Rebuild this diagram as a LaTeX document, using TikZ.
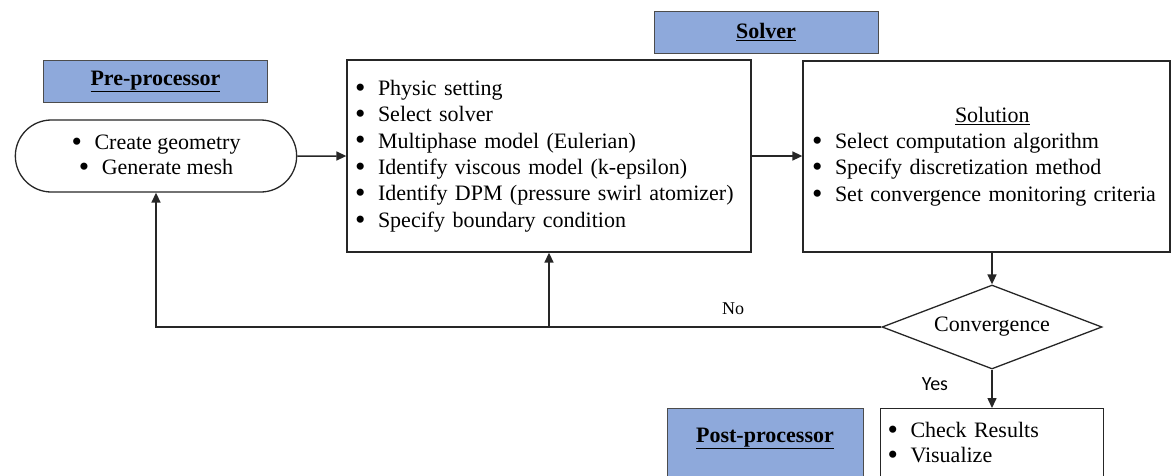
\documentclass[tikz,border=0pt]{standalone}
\usepackage{fontspec}
\setmainfont{Liberation Serif}
\newfontfamily\yesfont{Carlito}
\usetikzlibrary{shapes.geometric,shapes.misc,arrows.meta}
\definecolor{lblblue}{HTML}{8EA9DB}
\newcommand{\bul}{\makebox[23pt][l]{\raisebox{-0.08em}{\scalebox{1.35}{\textbullet}}}}
\tikzset{
  lbl/.style={draw=black!70, fill=lblblue, line width=1pt, minimum width=224pt, minimum height=42pt, font=\fontsize{22}{26}\selectfont\bfseries},
  box/.style={draw=black!85, line width=1.3pt, font=\fontsize{22}{26.4}\selectfont},
  arr/.style={draw=black!85, line width=1.5pt, -{Triangle[length=10pt,width=9pt]}}
}
\begin{document}
\begin{tikzpicture}[x=1pt,y=-1pt]
  \clip (0,0) rectangle (1171,475);
  % stage labels
  \node[lbl] (preLabel) at (155.5,81.5) {\underline{Pre-processor}};
  \node[lbl] (solverLabel) at (766,32) {\underline{Solver}};
  \node[lbl, anchor=north, minimum width=196pt, inner ysep=19.4pt] (postLabel) at (765,408) {\underline{Post-processor}\rule[-30pt]{0pt}{1pt}};
  % process boxes
  \node[box, rounded rectangle, minimum width=288pt, minimum height=72pt, align=center, font=\fontsize{22}{25}\selectfont] (preBox) at (156,156) {\bul Create geometry\\ \bul Generate mesh};
  \node[box, text width=388pt, inner xsep=8pt, minimum height=192pt, align=left] (solverBox) at (549,156) {\bul Physic setting\\ \bul Select solver\\ \bul Multiphase model (Eulerian)\\ \bul Identify viscous model (k-epsilon)\\ \bul Identify DPM (pressure swirl atomizer)\\ \bul Specify boundary condition};
  \node[box, text width=349pt, inner xsep=9pt, minimum height=191pt, align=left] (solutionBox) at (986.5,156.5) {\hspace*{143pt}\underline{Solution}\\ \bul Select computation algorithm\\ \bul Specify discretization method\\ \bul Set convergence monitoring criteria};
  \node[box, diamond, aspect=2.62, inner sep=0pt, minimum width=220pt, minimum height=84pt] (conv) at (992,327) {Convergence};
  \node[box, anchor=north, text width=209pt, inner xsep=7pt, inner ysep=14pt, align=left, font=\fontsize{22}{25}\selectfont] (resultBox) at (992,408) {\bul Check Results\\ \bul Visualize\rule[-25pt]{0pt}{1pt}};
  % labels on the loop
  \node[font=\fontsize{18}{20}\selectfont] (noLbl) at (733,309) {No};
  \node[font=\yesfont\fontsize{20}{22}\selectfont] (yesLbl) at (935,384) {Yes};
  % connectors
  \draw[arr] (preBox) -- (solverBox);
  \draw[arr] (solverBox.east) -- (solutionBox.west |- solverBox.east);
  \draw[arr] (conv.north |- solutionBox.south) -- (conv.north);
  \draw[arr] (conv.south) -- (resultBox.north);
  \draw[arr] (conv.west) -| (preBox.south);
  \coordinate (loopSplit) at (solverBox.south |- conv.west);
  \draw[arr] (loopSplit) -- (solverBox.south);
\end{tikzpicture}
\end{document}
